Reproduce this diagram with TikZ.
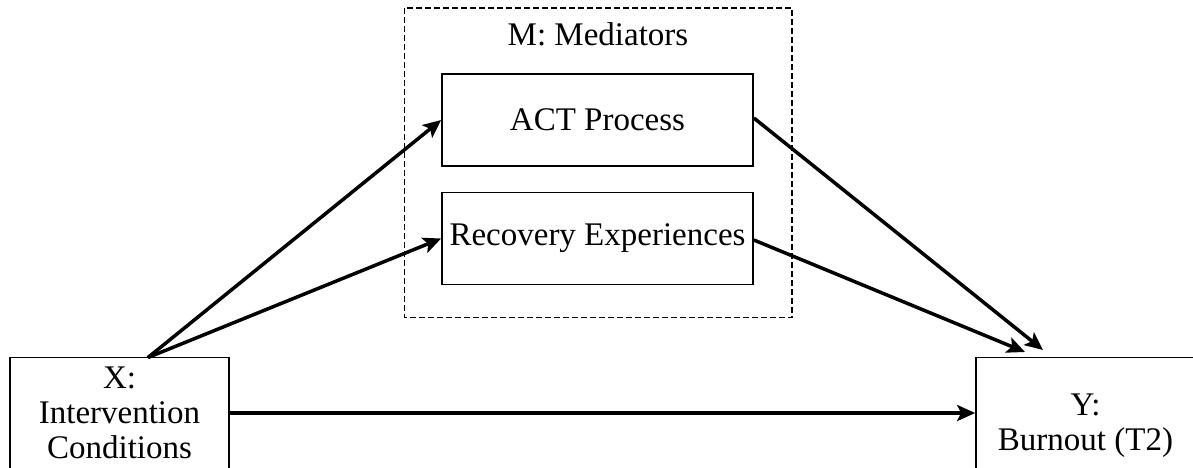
\documentclass[tikz,border=0pt]{standalone}
\usepackage{fontspec}
\setmainfont{Liberation Serif}
\usetikzlibrary{arrows.meta}

\begin{document}
\begin{tikzpicture}[x=1pt, y=-1pt,
        box/.style={draw, line width=1.7pt, inner sep=0pt, align=center,
            minimum width=219pt, minimum height=111pt,
            font=\fontsize{33}{35}\selectfont},
        medbox/.style={box, minimum width=311pt, minimum height=92pt},
        boxtext/.style={align=center, inner sep=0pt, font=\fontsize{33}{35}\selectfont},
        link/.style={line width=3.5pt, -{Stealth[length=18pt, width=16pt, inset=4pt]}}]
    \useasboundingbox (0, 0) rectangle (1193, 467);
    % mediators frame
    \draw[line width=1.7pt, dash pattern=on 6pt off 3pt] (404.5, 8) rectangle (792, 317.5);
    \node (med) at (598, 45) [anchor=base, boxtext] {M: Mediators};
    \node (act) at (597.5, 120) [medbox] {ACT Process};
    \node (rec) at (597.5, 238.5) [medbox] {Recovery Experiences};
    % X and Y
    \node (x) at (119.5, 413) [box] {X:\\Intervention\\Conditions};
    \node (y) at (1085.5, 413) [box,
        label={[boxtext, yshift=-13pt]center:{Y:\\Burnout (T2)}}] {};
    \coordinate (xtop) at (148, 357.5);
    \coordinate (yact) at (1043, 350);
    \coordinate (yrec) at (1025, 352);
    % paths
    \draw[link] (xtop) -- (act.west);
    \draw[link] (xtop) -- (rec.west);
    \draw[link] ([yshift=2pt]act.east) -- (yact);
    \draw[link] ([yshift=-1.5pt]rec.east) -- (yrec);
    \draw[link] (x.east) -- (y.west);
\end{tikzpicture}
\end{document}
